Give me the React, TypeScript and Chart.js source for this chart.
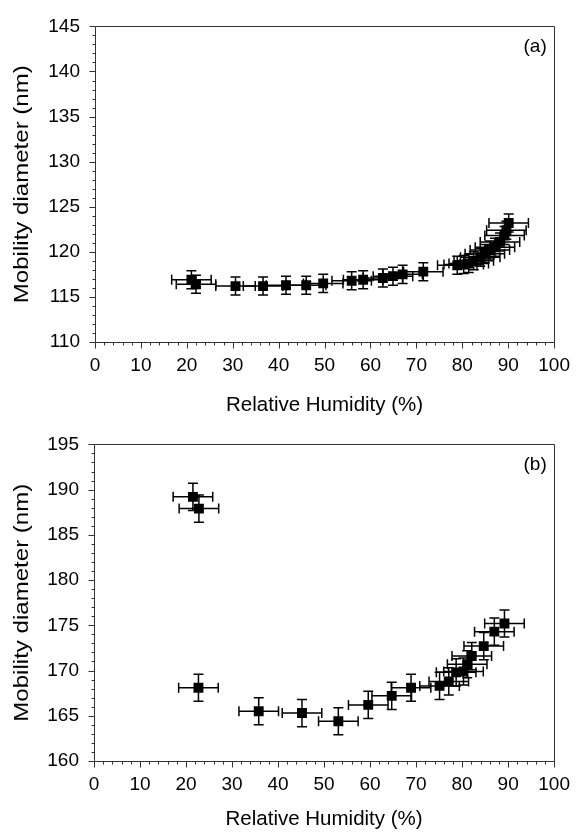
import React, { useEffect, useRef } from "react";
import { Chart, registerables } from "chart.js";

Chart.register(...registerables);

// Panel (a)
const rhA = [21.0, 22.0, 30.6, 36.6, 41.6, 46.0, 49.7, 55.9, 58.4, 62.7, 64.9, 67.0, 71.5, 78.9, 80.3, 81.4, 82.5, 83.9, 84.9, 86.0, 87.1, 88.2, 89.2, 89.6, 90.1];
const diamA = [116.9, 116.4, 116.2, 116.2, 116.3, 116.3, 116.5, 116.8, 116.9, 117.1, 117.3, 117.5, 117.8, 118.5, 118.6, 118.7, 119.0, 119.4, 119.8, 120.2, 120.5, 121.1, 121.8, 122.4, 123.2];
const rhErrA = 4.3;
const diamErrA = 1.0;

// Panel (b)
const rhB = [21.5, 22.8, 22.7, 35.8, 45.2, 53.1, 59.6, 64.7, 68.9, 75.1, 77.1, 78.7, 80.3, 81.1, 82.1, 84.7, 87.0, 89.2];
const diamB = [189.2, 187.9, 168.1, 165.5, 165.3, 164.4, 166.2, 167.2, 168.1, 168.3, 168.8, 169.8, 169.9, 170.7, 171.6, 172.7, 174.3, 175.2];
const rhErrB = 4.3;
const diamErrB = 1.5;

const xTicks = [0, 10, 20, 30, 40, 50, 60, 70, 80, 90, 100];
const yTicksA = [110, 115, 120, 125, 130, 135, 140, 145];
const yTicksB = [160, 165, 170, 175, 180, 185, 190, 195];

const FONT = "'Liberation Sans', Arial, sans-serif";
const Y_TITLE = "Mobility diameter (nm)";

const errorBarPlugin = {
  id: "errorBars",
  beforeDatasetsDraw(chart: any) {
    const { ctx, scales } = chart;
    const xs = scales.x;
    const ys = scales.y;
    ctx.save();
    ctx.strokeStyle = "#000";
    ctx.lineWidth = 1.5;
    const cap = 5;
    chart.data.datasets.forEach((ds: any) => {
      ds.data.forEach((p: any) => {
        const px = xs.getPixelForValue(p.x);
        const py = ys.getPixelForValue(p.y);
        const xl = xs.getPixelForValue(p.x - p.xe);
        const xr = xs.getPixelForValue(p.x + p.xe);
        const yt = ys.getPixelForValue(p.y + p.ye);
        const yb = ys.getPixelForValue(p.y - p.ye);
        ctx.beginPath();
        ctx.moveTo(xl, py);
        ctx.lineTo(xr, py);
        ctx.moveTo(xl, py - cap);
        ctx.lineTo(xl, py + cap);
        ctx.moveTo(xr, py - cap);
        ctx.lineTo(xr, py + cap);
        ctx.moveTo(px, yt);
        ctx.lineTo(px, yb);
        ctx.moveTo(px - cap, yt);
        ctx.lineTo(px + cap, yt);
        ctx.moveTo(px - cap, yb);
        ctx.lineTo(px + cap, yb);
        ctx.stroke();
      });
    });
    ctx.restore();
  },
};

const framePlugin = {
  id: "frame",
  afterDraw(chart: any) {
    const { ctx, chartArea: ca, scales } = chart;
    const xs = scales.x;
    const ys = scales.y;
    const label = chart.options.plugins.frame.label;
    ctx.save();
    ctx.strokeStyle = "#333";
    ctx.lineWidth = 1;
    ctx.beginPath();
    const L = Math.round(ca.left) + 0.5;
    const R = Math.round(ca.right) + 0.5;
    const T = Math.round(ca.top) + 0.5;
    const B = Math.round(ca.bottom) + 0.5;
    ctx.moveTo(L, T);
    ctx.lineTo(R, T);
    ctx.lineTo(R, B);
    ctx.lineTo(L, B);
    ctx.closePath();
    for (let v = ys.min; v <= ys.max + 1e-6; v += 1) {
      const py = Math.round(ys.getPixelForValue(v)) + 0.5;
      const len = Math.round(v) % 5 === 0 ? 6 : 3;
      ctx.moveTo(L - len, py);
      ctx.lineTo(L, py);
    }
    for (let v = xs.min; v <= xs.max + 1e-6; v += 2) {
      const px = Math.round(xs.getPixelForValue(v)) + 0.5;
      const len = Math.round(v) % 10 === 0 ? 6 : 3;
      ctx.moveTo(px, B);
      ctx.lineTo(px, B + len);
    }
    ctx.stroke();
    ctx.fillStyle = "#000";
    ctx.font = `19px ${FONT}`;
    ctx.textAlign = "center";
    ctx.textBaseline = "middle";
    ctx.fillText(label, ca.right - 19, ca.top + 20);

    // y-axis title, stretched along its length to match the reference
    ctx.font = `20px ${FONT}`;
    const w = ctx.measureText(Y_TITLE).width;
    const target = 238;
    ctx.translate(22, (ca.top + ca.bottom) / 2);
    ctx.rotate(-Math.PI / 2);
    ctx.scale(target / w, 1);
    ctx.fillText(Y_TITLE, 0, 0);
    ctx.restore();
  },
};

function Panel(props: {
  top: number;
  height: number;
  padTop: number;
  xs: number[];
  ys: number[];
  xe: number;
  ye: number;
  yTicks: number[];
  label: string;
  xTitlePadBottom: number;
}) {
  const ref = useRef<HTMLCanvasElement | null>(null);
  useEffect(() => {
    const canvas = ref.current;
    if (!canvas) return;
    const pts = props.xs.map((x, i) => ({ x, y: props.ys[i], xe: props.xe, ye: props.ye }));
    const yMin = props.yTicks[0];
    const yMax = props.yTicks[props.yTicks.length - 1];
    const chart = new Chart(canvas, {
      type: "scatter",
      data: {
        datasets: [
          {
            data: pts,
            pointStyle: "rect",
            pointRadius: 7,
            pointHoverRadius: 7,
            backgroundColor: "#000",
            borderColor: "#000",
            borderWidth: 0,
            showLine: false,
          },
        ],
      },
      options: {
        animation: false,
        responsive: false,
        devicePixelRatio: 1,
        events: [],
        layout: { padding: { top: props.padTop, right: 22, left: 0, bottom: 0 } },
        plugins: {
          legend: { display: false },
          tooltip: { enabled: false },
          frame: { label: props.label },
        } as any,
        scales: {
          x: {
            type: "linear",
            min: 0,
            max: 100,
            afterBuildTicks: (s: any) => {
              s.ticks = xTicks.map((v) => ({ value: v }));
            },
            afterFit: (s: any) => {
              s.height = props.height - props.padTop - (props.top === 0 ? 322 : 321);
            },
            grid: { display: true, drawOnChartArea: false, drawTicks: false, color: "rgba(0,0,0,0)" },
            border: { display: false },
            ticks: {
              color: "#000",
              font: { family: FONT, size: 19 },
              padding: 12,
              maxRotation: 0,
              autoSkip: false,
            },
            title: {
              display: true,
              text: "Relative Humidity (%)",
              color: "#000",
              font: { family: FONT, size: 20.5 },
              padding: { top: 0, bottom: props.xTitlePadBottom },
            },
          },
          y: {
            type: "linear",
            min: yMin,
            max: yMax,
            afterBuildTicks: (s: any) => {
              s.ticks = props.yTicks.map((v) => ({ value: v }));
            },
            afterFit: (s: any) => {
              s.width = props.top === 0 ? 95 : 94;
            },
            grid: { display: true, drawOnChartArea: false, drawTicks: false, color: "rgba(0,0,0,0)" },
            border: { display: false },
            ticks: {
              color: "#000",
              font: { family: FONT, size: 19 },
              padding: 15,
              autoSkip: false,
            },
            title: { display: false },
          },
        },
      } as any,
      plugins: [errorBarPlugin, framePlugin],
    });
    return () => chart.destroy();
  }, []);
  return (
    <canvas
      ref={ref}
      width={582}
      height={props.height}
      style={{ position: "absolute", left: 0, top: props.top, width: 582, height: props.height, display: "block" }}
    />
  );
}

export default function App() {
  return (
    <div style={{ position: "absolute", left: 0, top: 0, width: 582, height: 835, background: "#fff", overflow: "hidden" }}>
      <Panel top={0} height={418} padTop={20} xs={rhA} ys={diamA} xe={rhErrA} ye={diamErrA} yTicks={yTicksA} label="(a)" xTitlePadBottom={0} />
      <Panel top={418} height={417} padTop={22} xs={rhB} ys={diamB} xe={rhErrB} ye={diamErrB} yTicks={yTicksB} label="(b)" xTitlePadBottom={3} />
    </div>
  );
}
